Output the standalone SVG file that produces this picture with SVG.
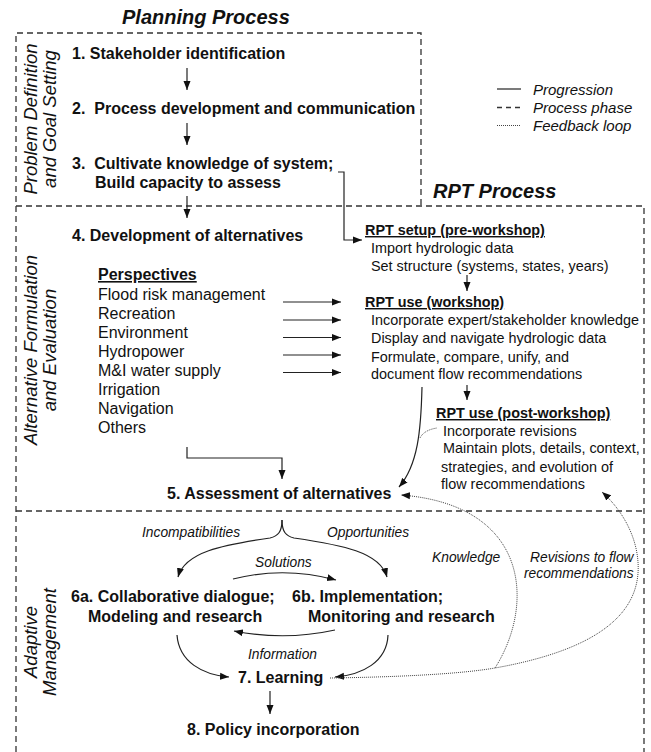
<svg xmlns="http://www.w3.org/2000/svg" width="651" height="752" viewBox="0 0 651 752">
<style>
text{font-family:"Liberation Sans",Arial,sans-serif;fill:#111}
.t{font-size:16px;font-weight:bold}
.p{font-size:16px}
.r{font-size:14.4px}
.rb{font-size:14.4px;font-weight:bold;text-decoration:underline}
.pb{font-size:16px;font-weight:bold;text-decoration:underline}
.h{font-size:20px;font-weight:bold;font-style:italic}
.v{font-size:18.5px;font-style:italic}
.i{font-size:13.8px;font-style:italic}
.lg{font-size:15px;font-style:italic}
.phase{fill:none;stroke:#333;stroke-width:1.3;stroke-dasharray:6 4}
.prog{fill:none;stroke:#222;stroke-width:1.2}
.fb{fill:none;stroke:#444;stroke-width:1;stroke-dasharray:1 1}
</style>
<defs>
<marker id="a" markerUnits="userSpaceOnUse" markerWidth="10" markerHeight="8" refX="9" refY="4" orient="auto"><path d="M0,0.5 L9,4 L0,7.5z" fill="#111"/></marker>
</defs>
<g id="phases">
<path class="phase" d="M16,752 V33 H421 V206"/>
<path class="phase" d="M16,206 H644 V752"/>
<path class="phase" d="M16,511 H644"/>
<text class="h" x="122" y="24">Planning Process</text>
<text class="h" x="433" y="198">RPT Process</text>
<text class="v" transform="translate(37,119) rotate(-90)" text-anchor="middle">Problem Definition</text>
<text class="v" transform="translate(56,119) rotate(-90)" text-anchor="middle">and Goal Setting</text>
<text class="v" transform="translate(37,350) rotate(-90)" text-anchor="middle">Alternative Formulation</text>
<text class="v" transform="translate(56,350) rotate(-90)" text-anchor="middle">and Evaluation</text>
<text class="v" transform="translate(37,642) rotate(-90)" text-anchor="middle">Adaptive</text>
<text class="v" transform="translate(56,642) rotate(-90)" text-anchor="middle">Management</text>
</g>
<g id="legend">
<path class="prog" d="M497,89 H521"/>
<path class="phase" d="M497,107.5 H520" style="stroke-dasharray:5 4"/>
<path class="fb" d="M497,125.5 H521"/>
<text class="lg" x="533" y="94.5">Progression</text>
<text class="lg" x="533" y="113">Process phase</text>
<text class="lg" x="533" y="131">Feedback loop</text>
</g>
<g id="n1"><text class="t" x="72" y="59">1. Stakeholder identification</text></g>
<g id="n2"><text class="t" x="72" y="114" xml:space="preserve">2.  Process development and communication</text></g>
<g id="n3"><text class="t" x="72" y="168.5" xml:space="preserve">3.  Cultivate knowledge of system;</text><text class="t" x="95" y="187.5">Build capacity to assess</text></g>
<g id="n4"><text class="t" x="72" y="241">4. Development of alternatives</text></g>
<g id="perspectives">
<text class="pb" x="98" y="280">Perspectives</text>
<text class="p" x="98" y="299.5">Flood risk management</text>
<text class="p" x="98" y="318.5">Recreation</text>
<text class="p" x="98" y="337.5">Environment</text>
<text class="p" x="98" y="356.5">Hydropower</text>
<text class="p" x="98" y="375.5">M&amp;I water supply</text>
<text class="p" x="98" y="394.5">Irrigation</text>
<text class="p" x="98" y="414">Navigation</text>
<text class="p" x="98" y="433">Others</text>
</g>
<g id="rpt-setup">
<text class="rb" x="365" y="235">RPT setup (pre-workshop)</text>
<text class="r" x="371" y="253">Import hydrologic data</text>
<text class="r" x="371" y="271">Set structure (systems, states, years)</text>
</g>
<g id="rpt-use">
<text class="rb" x="365" y="307">RPT use (workshop)</text>
<text class="r" x="371" y="325">Incorporate expert/stakeholder knowledge</text>
<text class="r" x="371" y="343">Display and navigate hydrologic data</text>
<text class="r" x="371" y="361.5">Formulate, compare, unify, and</text>
<text class="r" x="371" y="379">document flow recommendations</text>
</g>
<g id="rpt-post">
<text class="rb" x="436" y="418">RPT use (post-workshop)</text>
<text class="r" x="443" y="435.5">Incorporate revisions</text>
<text class="r" x="443" y="453">Maintain plots, details, context,</text>
<text class="r" x="441" y="471.5">strategies, and evolution of</text>
<text class="r" x="441" y="488.5">flow recommendations</text>
</g>
<g id="n5"><text class="t" x="167" y="499">5. Assessment of alternatives</text></g>
<g id="n6a"><text class="t" x="71" y="602">6a. Collaborative dialogue;</text><text class="t" x="88" y="622">Modeling and research</text></g>
<g id="n6b"><text class="t" x="292" y="602">6b. Implementation;</text><text class="t" x="308" y="622">Monitoring and research</text></g>
<g id="n7"><text class="t" x="238" y="683">7. Learning</text></g>
<g id="n8"><text class="t" x="187" y="735">8. Policy incorporation</text></g>
<g id="connectors">
<path class="prog" marker-end="url(#a)" d="M187,68 V90"/>
<path class="prog" marker-end="url(#a)" d="M187,123 V145"/>
<path class="prog" marker-end="url(#a)" d="M187,196 V218"/>
<path class="prog" marker-end="url(#a)" d="M338,172 H344 V240 H362"/>
<path class="prog" marker-end="url(#a)" d="M283,302 H341"/>
<path class="prog" marker-end="url(#a)" d="M283,320 H341"/>
<path class="prog" marker-end="url(#a)" d="M283,337.5 H341"/>
<path class="prog" marker-end="url(#a)" d="M283,355 H341"/>
<path class="prog" marker-end="url(#a)" d="M283,372.5 H341"/>
<path class="prog" marker-end="url(#a)" d="M467,275 V291"/>
<path class="prog" marker-end="url(#a)" d="M467,385 V400"/>
<path class="prog" marker-end="url(#a)" d="M187,447 V458 H282 V479"/>
<path class="prog" marker-end="url(#a)" d="M422,387 C421,430 418,465 399,487"/>
<path class="fb" d="M420,438 Q424,430 437,428"/>
<path class="prog" marker-end="url(#a)" d="M282,520 C282,532 278,536 270,538 C222,545 185,552 178,577"/>
<path class="prog" marker-end="url(#a)" d="M282,520 C282,532 286,536 294,538 C342,545 380,552 387,577"/>
<path class="prog" marker-end="url(#a)" d="M233,579 Q284,566 336,580"/>
<path class="prog" marker-end="url(#a)" d="M335,630 Q285,641 234,631"/>
<path class="prog" marker-end="url(#a)" d="M177,635 C179,662 203,675 229,677"/>
<path class="prog" marker-end="url(#a)" d="M388,635 C387,662 362,675 335,677"/>
<path class="prog" marker-end="url(#a)" d="M270,691 V714"/>
<path class="fb" marker-end="url(#a)" d="M330,678 C400,677 460,674 495,668 C585,652 642,620 638,562 C636,533 620,508 602,492"/>
<path class="fb" marker-end="url(#a)" d="M495,668 C535,605 530,505 401,495"/>
</g>
<g id="labels">
<text class="i" x="142" y="537">Incompatibilities</text>
<text class="i" x="327" y="537">Opportunities</text>
<text class="i" x="255" y="567">Solutions</text>
<text class="i" x="248" y="659">Information</text>
<text class="i" x="432" y="562">Knowledge</text>
<text class="i" x="530" y="562">Revisions to flow</text>
<text class="i" x="524" y="578">recommendations</text>
</g>
</svg>
